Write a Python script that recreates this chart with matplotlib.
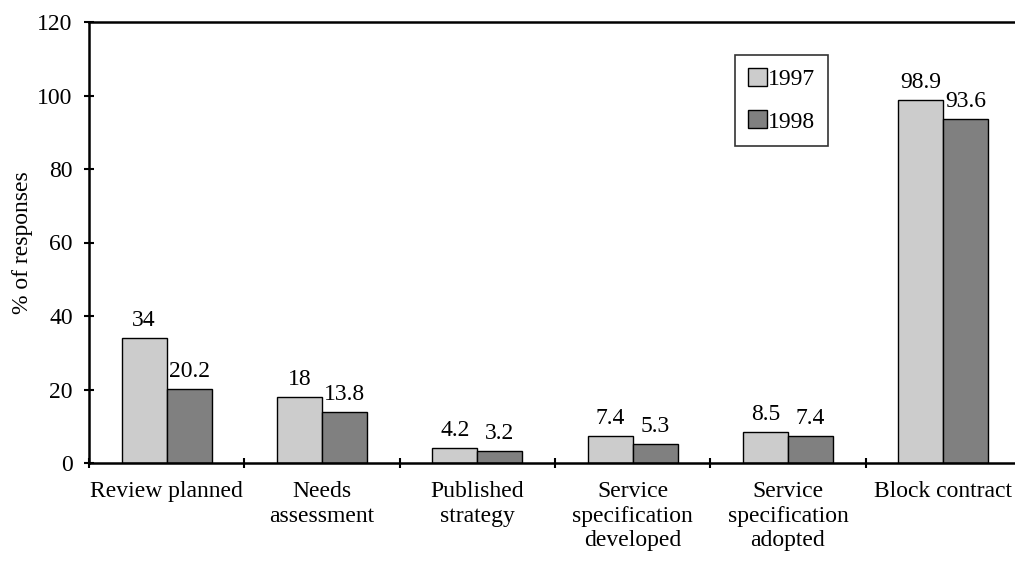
import matplotlib
matplotlib.use("Agg")
import matplotlib.pyplot as plt
import numpy as np
from matplotlib.patches import Patch

categories = ["Review planned", "Needs\nassessment", "Published\nstrategy",
              "Service\nspecification\ndeveloped", "Service\nspecification\nadopted",
              "Block contract"]
series_names = ["1997", "1998"]
values_1997 = [34, 18, 4.2, 7.4, 8.5, 98.9]
values_1998 = [20.2, 13.8, 3.2, 5.3, 7.4, 93.6]
label_1997 = ["34", "18", "4.2", "7.4", "8.5", "98.9"]
label_1998 = ["20.2", "13.8", "3.2", "5.3", "7.4", "93.6"]
yticks = [0, 20, 40, 60, 80, 100, 120]

plt.rcParams['font.family'] = ['Liberation Serif', 'DejaVu Serif']
FS = 17

fig = plt.figure(figsize=(10.15, 5.62), dpi=100)
ax = fig.add_axes([89/1015, 99/562, 932/1015, 441/562])

x = np.arange(len(categories))
w = 0.29
c1, c2 = "#cccccc", "#808080"
b1 = ax.bar(x - w/2, values_1997, w, color=c1, edgecolor="black", linewidth=1.0)
b2 = ax.bar(x + w/2, values_1998, w, color=c2, edgecolor="black", linewidth=1.0)
for bars, labs in ((b1, label_1997), (b2, label_1998)):
    for r, t in zip(bars, labs):
        ax.annotate(t, (r.get_x() + r.get_width()/2, r.get_height()),
                    xytext=(0, 5), textcoords="offset points",
                    ha="center", va="bottom", fontsize=FS)

ax.set_xlim(-0.5, len(categories) - 0.5)
ax.set_ylim(0, 120)
ax.set_yticks(yticks)
ax.set_yticklabels([str(v) for v in yticks], fontsize=FS)
ax.set_xticks(np.arange(len(categories) + 1) - 0.5)
ax.set_xticklabels([])
ax.set_xticks(x, minor=True)
ax.set_xticklabels(categories, minor=True, fontsize=FS, linespacing=1.22)
ax.tick_params(axis="x", which="minor", length=0, pad=13)
ax.tick_params(axis="both", which="major", direction="inout", length=7.5, width=1.5)
ax.tick_params(axis="y", pad=8)
for s in ["left", "bottom", "top"]:
    ax.spines[s].set_linewidth(1.8)
ax.spines["right"].set_visible(False)
ax.set_ylabel("% of responses", fontsize=FS, labelpad=3)

handles = [Patch(facecolor=c1, edgecolor="black", label=series_names[0]),
           Patch(facecolor=c2, edgecolor="black", label=series_names[1])]
leg = ax.legend(handles=handles, loc="upper left",
                bbox_to_anchor=((735-89)/932, (463-55)/441),
                fontsize=FS, frameon=True, fancybox=False, edgecolor="black",
                handlelength=0.8, handleheight=0.8, handletextpad=0.05,
                labelspacing=0.85, borderpad=0.55, borderaxespad=0)
leg.get_frame().set_linewidth(1.2)

fig.savefig("out.png", dpi=100)
